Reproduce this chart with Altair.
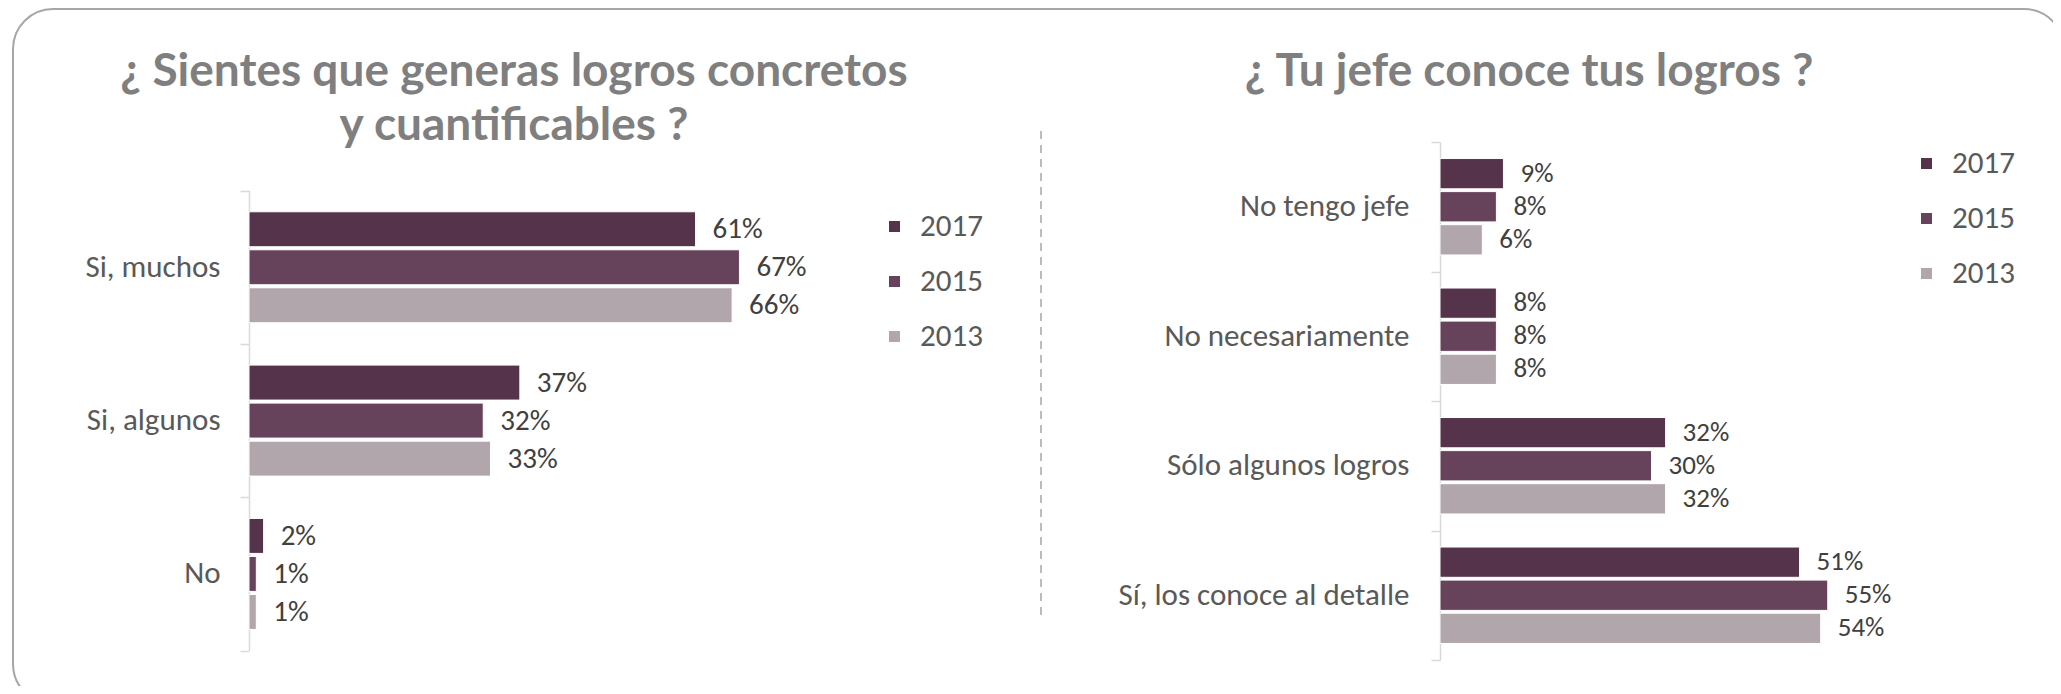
import altair as alt
import pandas as pd

# ---------------- data ----------------
years = ["2017", "2015", "2013"]
year_colors = ["#55344B", "#66435A", "#B0A6AB"]

left_cats = ["Si, muchos", "Si, algunos", "No"]
left_2017 = [61, 37, 2]
left_2015 = [67, 32, 1]
left_2013 = [66, 33, 1]

right_cats = ["No tengo jefe", "No necesariamente", "Sólo algunos logros",
              "Sí, los conoce al detalle"]
right_2017 = [9, 8, 32, 51]
right_2015 = [8, 8, 30, 55]
right_2013 = [6, 8, 32, 54]

left_title = ["¿ Sientes que generas logros concretos", "y cuantificables ?"]
right_title = ["¿ Tu jefe conoce tus logros ?"]

LABEL_FONT = "Carlito, Lato, sans-serif"
TITLE_FONT = "Lato, sans-serif"
FS = 31


def to_long(cats, s17, s15, s13):
    rows = []
    for c, a, b, d in zip(cats, s17, s15, s13):
        for y, v in zip(years, (a, b, d)):
            rows.append({"cat": c, "year": y, "value": v, "label": f"{v}%"})
    return pd.DataFrame(rows)


def panel(df, cats, yrange, xrange, pad_i, pad_o, axis_offset, lab_pad,
          legend_x, legend_y, vfs):
    y = alt.Y(
        "cat:N", sort=cats,
        scale=alt.Scale(domain=cats, range=yrange, paddingInner=0, paddingOuter=0),
        axis=alt.Axis(title=None, orient="left", offset=axis_offset,
                      tickBand="extent", domainColor="#D9D9D9", tickColor="#D9D9D9",
                      domainWidth=1.5, tickWidth=1.5, tickSize=9,
                      labelFont=LABEL_FONT, labelFontSize=FS, labelColor="#595959",
                      labelPadding=lab_pad, labelLimit=600),
    )
    x = alt.X("value:Q", scale=alt.Scale(domain=[0, 100], range=xrange), axis=None)
    yo = alt.YOffset("year:N", sort=years,
                     scale=alt.Scale(domain=years, paddingInner=pad_i, paddingOuter=pad_o))
    color = alt.Color(
        "year:N", sort=years,
        scale=alt.Scale(domain=years, range=year_colors),
        legend=alt.Legend(title=None, orient="none", legendX=legend_x, legendY=legend_y,
                          symbolType="square", symbolSize=121, symbolStrokeWidth=0,
                          labelFont=LABEL_FONT, labelFontSize=FS, labelColor="#595959",
                          labelOffset=10, rowPadding=23, padding=0),
    )
    bars = alt.Chart(df).mark_bar(stroke="white", strokeWidth=1).encode(
        y=y, x=x, yOffset=yo, color=color)
    text = alt.Chart(df).mark_text(align="left", baseline="middle", dx=17,
                                   font=LABEL_FONT, fontSize=vfs, color="#404040").encode(
        y=y, x=x, yOffset=yo, text="label:N")
    return alt.layer(bars, text)


left_df = to_long(left_cats, left_2017, left_2015, left_2013)
right_df = to_long(right_cats, right_2017, right_2015, right_2013)

left = panel(left_df, left_cats, [48.6, 508.6], [0, 732], 0.08, 0.557, 0, 20, 630, 69, 29)
right = panel(right_df, right_cats, [0, 518], [1191, 1896], 0.085, 0.5, -1191, 22, 1662, 6, 27)

one = pd.DataFrame({"k": [0]})

frame = alt.Chart(one).mark_rect(cornerRadius=40, fillOpacity=0, stroke="#A6A6A6",
                                 strokeWidth=2).encode(
    x=alt.value(-236), x2=alt.value(1815), y=alt.value(-133), y2=alt.value(562))

divider = alt.Chart(one).mark_rule(color="#A6A6A6", strokeWidth=1.5,
                                   strokeDash=[8, 6]).encode(
    x=alt.value(792), y=alt.value(-11), y2=alt.value(478))

title_l = alt.Chart(one).mark_text(text=left_title, font=TITLE_FONT, fontSize=46,
                                   fontWeight="bold", color="#7F7F7F", align="center",
                                   baseline="middle", lineHeight=54).encode(
    x=alt.value(265), y=alt.value(-70))
title_r = alt.Chart(one).mark_text(text=right_title, font=TITLE_FONT, fontSize=46,
                                   fontWeight="bold", color="#7F7F7F", align="center",
                                   baseline="middle").encode(
    x=alt.value(1280), y=alt.value(-70))

chart = alt.layer(frame, divider, title_l, title_r, left, right).resolve_scale(
    x="independent", y="independent", yOffset="independent", color="independent"
).resolve_legend(color="independent").properties(
    width=1804, height=544,
    autosize=alt.AutoSizeParams(type="none"),
    padding={"left": 241, "top": 134, "right": 0, "bottom": 0},
    background="white",
).configure_view(strokeWidth=0)

chart.save("out.html", embed_options={"renderer": "svg", "actions": False})
